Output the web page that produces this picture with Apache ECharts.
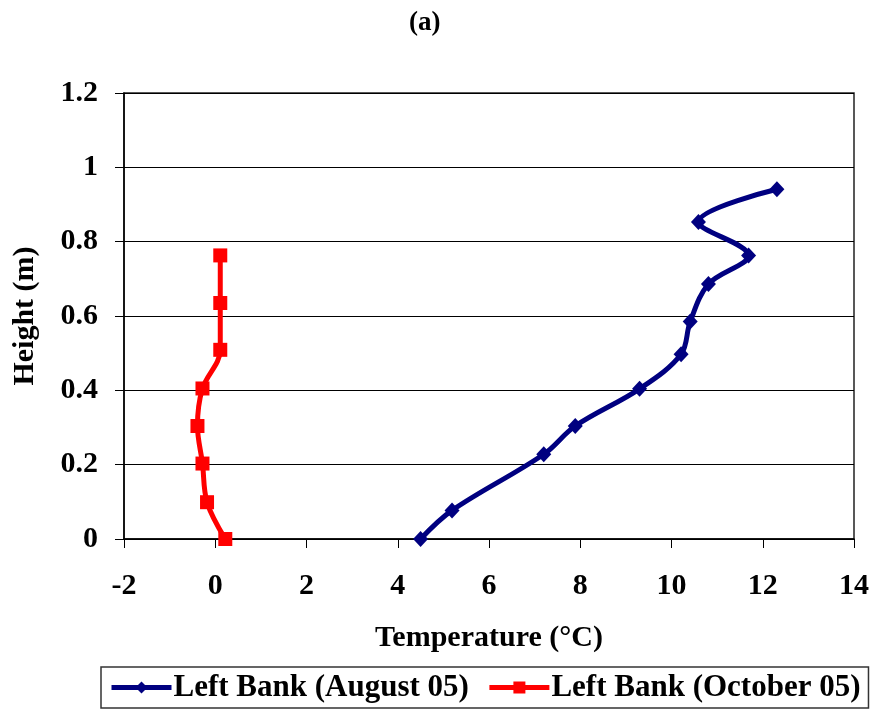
<!DOCTYPE html>
<html><head><meta charset="utf-8">
<script src="https://cdn.jsdelivr.net/npm/echarts@6/dist/echarts.min.js"></script>
<style>html,body{margin:0;padding:0;background:#fff}#c{width:875px;height:711px}</style>
</head><body><div id="c"></div>
<script>
const augTemp   = [4.50, 5.19, 7.20, 7.89, 9.30, 10.21, 10.41, 10.81, 11.69, 10.59, 12.31];
const augHeight = [0.00, 0.077, 0.228, 0.304, 0.404, 0.497, 0.585, 0.686, 0.763, 0.853, 0.941];
const octTemp   = [0.22, -0.18, -0.28, -0.39, -0.28, 0.11, 0.11, 0.11];
const octHeight = [0.00, 0.099, 0.203, 0.304, 0.405, 0.509, 0.635, 0.763];
const seriesNames = ['Left Bank (August 05)', 'Left Bank (October 05)'];
const FONT = "'Liberation Serif', 'Times New Roman', serif";

const pairs = (xs, ys) => xs.map((x, i) => [x, ys[i]]);

const chart = echarts.init(document.getElementById('c'), null, {renderer: 'canvas'});
chart.setOption({
  animation: false,
  backgroundColor: '#fff',
  title: {
    text: '(a)', left: 404, top: 5,
    textStyle: {fontFamily: FONT, fontWeight: 'bold', fontSize: 27, color: '#000'}
  },
  grid: {left: 124, right: 21, top: 93, bottom: 172, show: true, borderColor: '#222', borderWidth: 1.5},
  xAxis: {
    type: 'value', min: -2, max: 14, interval: 2,
    name: 'Temperature (°C)', nameLocation: 'middle', nameGap: 84,
    nameTextStyle: {fontFamily: FONT, fontWeight: 'bold', fontSize: 30, color: '#000'},
    axisLine: {show: true, lineStyle: {color: '#000', width: 1.5}},
    axisTick: {show: true, inside: false, length: 9, lineStyle: {color: '#000', width: 1}},
    axisLabel: {fontFamily: FONT, fontWeight: 'bold', fontSize: 30, color: '#000', margin: 32},
    splitLine: {show: false}
  },
  yAxis: {
    type: 'value', min: 0, max: 1.2, interval: 0.2,
    name: 'Height (m)', nameLocation: 'middle', nameGap: 84,
    nameTextStyle: {fontFamily: FONT, fontWeight: 'bold', fontSize: 30, color: '#000'},
    axisLine: {show: true, onZero: false, lineStyle: {color: '#000', width: 1.5}},
    axisTick: {show: true, inside: false, length: 9, lineStyle: {color: '#000', width: 1}},
    axisLabel: {fontFamily: FONT, fontWeight: 'bold', fontSize: 30, color: '#000', margin: 26},
    splitLine: {show: true, lineStyle: {color: '#000', width: 1}}
  },
  legend: {
    left: 101, top: 667,
    data: seriesNames,
    itemWidth: 60, itemHeight: 15, itemGap: 18,
    padding: [5, 8],
    borderColor: '#333', borderWidth: 1.5,
    lineStyle: {width: 5},
    textStyle: {fontFamily: FONT, fontWeight: 'bold', fontSize: 31, color: '#000', padding: [0, 0, 0, -3]}
  },
  series: [
    {
      name: seriesNames[0], type: 'line', data: pairs(augTemp, augHeight),
      smooth: 0.35, color: '#000080',
      lineStyle: {width: 5, color: '#000080'},
      symbol: 'diamond', symbolSize: [15, 16],
      itemStyle: {color: '#000080'}
    },
    {
      name: seriesNames[1], type: 'line', data: pairs(octTemp, octHeight),
      smooth: 0.35, color: '#ff0000',
      lineStyle: {width: 5, color: '#ff0000'},
      symbol: 'rect', symbolSize: 14,
      itemStyle: {color: '#ff0000'}
    }
  ]
});
</script></body></html>
